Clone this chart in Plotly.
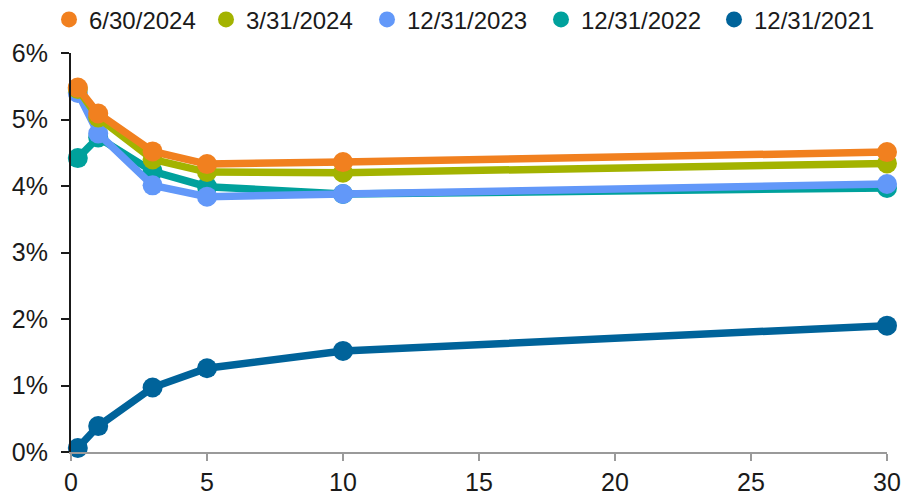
import plotly.graph_objects as go

maturity = [0.25, 1, 3, 5, 10, 30]
series_names = ["12/31/2021", "12/31/2022", "12/31/2023", "3/31/2024", "6/30/2024"]
y_2021 = [0.06, 0.39, 0.97, 1.26, 1.52, 1.90]
y_2022 = [4.42, 4.73, 4.22, 3.99, 3.88, 3.97]
y_2023 = [5.40, 4.79, 4.01, 3.84, 3.88, 4.03]
y_2024q1 = [5.46, 5.03, 4.40, 4.21, 4.20, 4.34]
y_2024q2 = [5.48, 5.09, 4.52, 4.33, 4.36, 4.51]
x_ticks = [0, 5, 10, 15, 20, 25, 30]
y_ticks = [0, 1, 2, 3, 4, 5, 6]
y_tick_labels = ["0%", "1%", "2%", "3%", "4%", "5%", "6%"]
colors = ["#00639A", "#00A19C", "#6298F9", "#A3B300", "#F1801F"]
values = [y_2021, y_2022, y_2023, y_2024q1, y_2024q2]
# legend entry marker centres (px from left), in the order of series_names
legend_px = [736, 563, 389, 228, 71]

W, H = 903, 495
fig = go.Figure()
for name, vals, col in zip(series_names, values, colors):
    fig.add_trace(go.Scatter(
        x=maturity, y=vals, name=name, mode="lines+markers",
        line=dict(color=col, width=7.5),
        marker=dict(color=col, size=20),
        cliponaxis=False, showlegend=False,
    ))

font_family = "Liberation Sans, Arial, sans-serif"
legend_layouts = {}
for i, (name, col, px) in enumerate(zip(series_names, colors, legend_px)):
    key = "legend" if i == 0 else f"legend{i + 1}"
    fig.add_trace(go.Scatter(
        x=[None], y=[None], name=name, mode="markers",
        marker=dict(color=col, size=18), showlegend=True, legend=key,
    ))
    legend_layouts[key] = dict(
        orientation="h", x=(px - 22) / W, xanchor="left", xref="container",
        y=0.96, yanchor="middle", yref="container",
        font=dict(size=24, family=font_family, color="#1a1a1a"),
        bgcolor="rgba(0,0,0,0)",
    )

fig.update_layout(
    width=W, height=H,
    margin=dict(l=71, r=16, t=53, b=43, autoexpand=False),
    plot_bgcolor="white", paper_bgcolor="white",
    font=dict(family=font_family, size=24, color="#1a1a1a"),
    showlegend=True,
    xaxis=dict(range=[0, 30], tickvals=x_ticks, automargin=False,
               showline=True, linecolor="#9a9a9a", linewidth=2,
               ticks="outside", ticklen=7, tickwidth=2, tickcolor="#9a9a9a",
               showgrid=False, zeroline=False,
               tickfont=dict(size=25), ticklabelstandoff=0),
    yaxis=dict(range=[0, 6], tickvals=y_ticks, ticktext=y_tick_labels,
               automargin=False,
               showline=True, linecolor="#1a1a1a", linewidth=2,
               ticks="outside", ticklen=8, tickwidth=2, tickcolor="#1a1a1a",
               showgrid=False, zeroline=False,
               tickfont=dict(size=25), ticklabelstandoff=8),
    **legend_layouts,
)

fig.write_html("out.html")
